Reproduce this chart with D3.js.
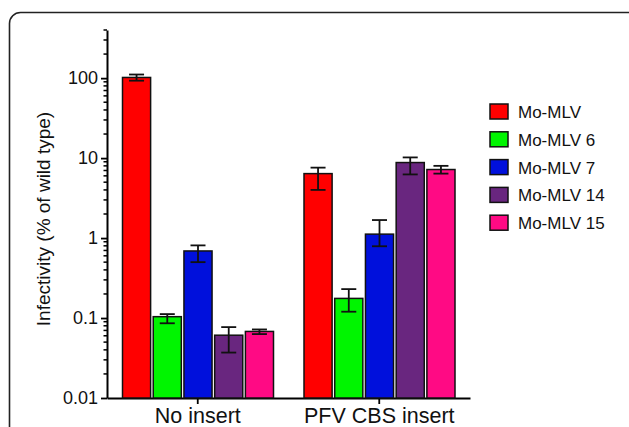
<!DOCTYPE html>
<html>
<head>
<meta charset="utf-8">
<script src="https://cdn.jsdelivr.net/npm/d3@7"></script>
<style>
	body { margin: 0; background: #fff; }
	svg { display: block; font-family: "Liberation Sans", Arial, sans-serif; }
</style>
</head>
<body>
<svg id="chart" width="629" height="427"></svg>
<script>
// chart values
var groups = ["No insert", "PFV CBS insert"];
var series = ["Mo-MLV", "Mo-MLV 6", "Mo-MLV 7", "Mo-MLV 14", "Mo-MLV 15"];
var colors = ["#ff0000", "#00f500", "#0010dc", "#69267f", "#ff0a84"];
var means = [
	[102, 0.104, 0.69, 0.061, 0.068],
	[6.4, 0.176, 1.12, 8.8, 7.2]
];
var errHigh = [
	[111, 0.112, 0.81, 0.077, 0.072],
	[7.6, 0.23, 1.68, 10.2, 8.0]
];
var errLow = [
	[93, 0.086, 0.50, 0.037, 0.063],
	[4.0, 0.12, 0.79, 6.25, 6.4]
];
var yTicks = [0.01, 0.1, 1, 10, 100];
var yTickLabels = ["0.01", "0.1", "1", "10", "100"];

var svg = d3.select("#chart");

// rounded frame round the figure
svg.append("rect")
	.attr("x", 9.5).attr("y", 12.5)
	.attr("width", 640).attr("height", 460)
	.attr("rx", 11).attr("ry", 11)
	.attr("fill", "none")
	.attr("stroke", "#222")
	.attr("stroke-width", 1.6);

var x0 = d3.scaleBand().domain(groups).range([107, 470]).padding(0);
var x1 = d3.scaleBand().domain(series).range([15.5, 166.5]).paddingInner(0.085);
var y = d3.scaleLog().domain([0.01, 400]).range([398, 30]);

// minor ticks
var minor = [];
[0.01, 0.1, 1, 10, 100].forEach(function(d) {
	for (var k = 2; k <= 9; k++) {
		var v = d * k;
		if (v <= 400) minor.push(v);
	}
});

var ax = svg.append("g");
ax.selectAll(".minor")
	.data(minor)
	.enter().append("line")
	.attr("x1", 103.5).attr("x2", 107)
	.attr("y1", function(d) { return y(d); })
	.attr("y2", function(d) { return y(d); })
	.attr("stroke", "#000").attr("stroke-width", 1.5);

ax.append("g")
	.attr("transform", "translate(107,0)")
	.call(d3.axisLeft(y).tickValues(yTicks)
		.tickFormat(function(d, i) { return yTickLabels[i]; })
		.tickSize(6).tickSizeOuter(0).tickPadding(3))
	.call(function(g) {
		g.select(".domain").attr("stroke-width", 2);
		g.selectAll(".tick line").attr("stroke-width", 1.8);
		g.selectAll(".tick text")
			.attr("font-size", 18)
			.attr("font-family", "Liberation Sans, Arial, sans-serif")
			.attr("fill", "#111");
	});

ax.append("g")
	.attr("transform", "translate(0,398)")
	.call(d3.axisBottom(x0).tickSize(6).tickSizeOuter(0).tickPadding(4))
	.call(function(g) {
		g.select(".domain").attr("stroke-width", 2);
		g.selectAll(".tick line").attr("stroke-width", 1.8);
		g.selectAll(".tick text")
			.attr("font-size", 21.5)
			.attr("font-family", "Liberation Sans, Arial, sans-serif")
			.attr("fill", "#111");
	});

// y axis title
svg.append("text")
	.attr("transform", "translate(50,219) rotate(-90)")
	.attr("text-anchor", "middle")
	.attr("font-size", 19)
	.attr("fill", "#111")
	.text("Infectivity (% of wild type)");

// bars
var rows = [];
groups.forEach(function(g, gi) {
	series.forEach(function(s, si) {
		rows.push({ group: g, series: s, color: colors[si],
			value: means[gi][si], hi: errHigh[gi][si], lo: errLow[gi][si] });
	});
});

var bars = svg.append("g");
bars.selectAll(".bar")
	.data(rows)
	.enter().append("rect")
	.attr("class", "bar")
	.attr("x", function(d) { return x0(d.group) + x1(d.series); })
	.attr("y", function(d) { return y(d.value); })
	.attr("width", x1.bandwidth())
	.attr("height", function(d) { return y(0.01) - y(d.value); })
	.attr("fill", function(d) { return d.color; })
	.attr("stroke", "#111")
	.attr("stroke-width", 1.5);

// error bars
var eb = bars.selectAll(".err")
	.data(rows)
	.enter().append("g")
	.attr("class", "err")
	.attr("stroke", "#111")
	.attr("stroke-width", 1.8);
function cx(d) { return x0(d.group) + x1(d.series) + x1.bandwidth() / 2; }
eb.append("line")
	.attr("x1", cx).attr("x2", cx)
	.attr("y1", function(d) { return y(d.hi); })
	.attr("y2", function(d) { return y(d.lo); });
eb.append("line")
	.attr("x1", function(d) { return cx(d) - 7.5; })
	.attr("x2", function(d) { return cx(d) + 7.5; })
	.attr("y1", function(d) { return y(d.hi); })
	.attr("y2", function(d) { return y(d.hi); });
eb.append("line")
	.attr("x1", function(d) { return cx(d) - 7.5; })
	.attr("x2", function(d) { return cx(d) + 7.5; })
	.attr("y1", function(d) { return y(d.lo); })
	.attr("y2", function(d) { return y(d.lo); });

// legend
var legend = svg.append("g").attr("transform", "translate(490,104)");
var item = legend.selectAll(".item")
	.data(series)
	.enter().append("g")
	.attr("transform", function(d, i) { return "translate(0," + (i * 27.8) + ")"; });
item.append("rect")
	.attr("width", 18).attr("height", 15)
	.attr("fill", function(d, i) { return colors[i]; })
	.attr("stroke", "#111").attr("stroke-width", 1.5);
item.append("text")
	.attr("x", 28).attr("y", 14)
	.attr("font-size", 17)
	.attr("fill", "#111")
	.text(function(d) { return d; });
</script>
</body>
</html>
